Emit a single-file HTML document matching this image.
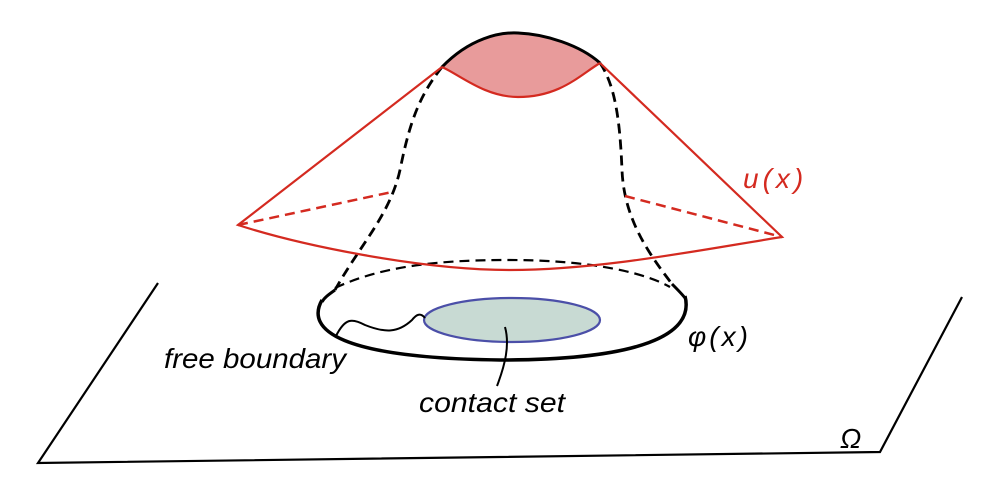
<!DOCTYPE html>
<html><head><meta charset="utf-8"><style>
html,body{margin:0;padding:0;background:#fff;}
svg{display:block}
text{font-family:"Liberation Sans","DejaVu Sans",sans-serif;font-style:italic;}
</style></head><body>
<svg width="1000" height="502" viewBox="0 0 1000 502" xmlns="http://www.w3.org/2000/svg">
<rect width="1000" height="502" fill="#fff"/>
<polyline points="158,283 38,463 880,452 962,297" fill="none" stroke="#000" stroke-width="2.2"/>
<path d="M322,300 C305,330 340,358 500,360 C640,360 695,335 685,296" fill="none" stroke="#000" stroke-width="3.5"/>
<path d="M335,288 C390,262 460,260 510,260 C580,260 640,270 670,287" fill="none" stroke="#000" stroke-width="2.2" stroke-dasharray="10,6"/>
<ellipse cx="512" cy="320" rx="88" ry="22" fill="#c8dad3" stroke="#4b4fa8" stroke-width="2.2"/>
<path d="M336,336 C345,318 352,318 365,325 C385,333 398,333 412,320 C416,315 420,312 425,318" fill="none" stroke="#000" stroke-width="2"/>
<path d="M505,327 C510,345 505,365 497,386" fill="none" stroke="#000" stroke-width="2"/>
<path d="M442,67 C420,95 410,120 400,170 C390,215 360,245 335,290" fill="none" stroke="#000" stroke-width="2.8" stroke-dasharray="10,6"/>
<path d="M335,290 C328,295 324,298 322,302" fill="none" stroke="#000" stroke-width="3"/>
<path d="M600,63 C615,85 620,120 622,170 C624,220 650,255 672,284" fill="none" stroke="#000" stroke-width="2.8" stroke-dasharray="10,6"/>
<path d="M672,284 C678,290 682,294 685,298" fill="none" stroke="#000" stroke-width="3"/>
<path d="M442,67 C470,38 500,32 518,33 C545,34 580,45 600,63 C580,75 560,97 518,97 C485,97 460,75 442,67 Z" fill="#e89b9b"/>
<path d="M442,67 C470,38 500,32 518,33 C545,34 580,45 600,63" fill="none" stroke="#000" stroke-width="3"/>
<path d="M442,67 C460,75 485,97 518,97 C560,97 580,75 600,63" fill="none" stroke="#d42a20" stroke-width="2.2"/>
<path d="M442,67 L238,225 C300,245 420,270 510,270 C600,270 700,250 782,237 L600,63" fill="none" stroke="#d42a20" stroke-width="2.2"/>
<path d="M238,225 L392,192" fill="none" stroke="#d42a20" stroke-width="2.5" stroke-dasharray="10,6"/>
<path d="M625,196 L782,237" fill="none" stroke="#d42a20" stroke-width="2.5" stroke-dasharray="10,6"/>
<text x="743" y="188" font-size="28" letter-spacing="4" fill="#d42a20">u(x)</text>
<text x="688" y="346" font-size="28" letter-spacing="3" fill="#000">φ(x)</text>
<text x="164" y="368" font-size="28" fill="#000" textLength="182" lengthAdjust="spacingAndGlyphs">free boundary</text>
<text x="419" y="412" font-size="28" fill="#000" textLength="146" lengthAdjust="spacingAndGlyphs">contact set</text>
<text x="840" y="448" font-size="28" fill="#000">Ω</text>
</svg>
</body></html>
